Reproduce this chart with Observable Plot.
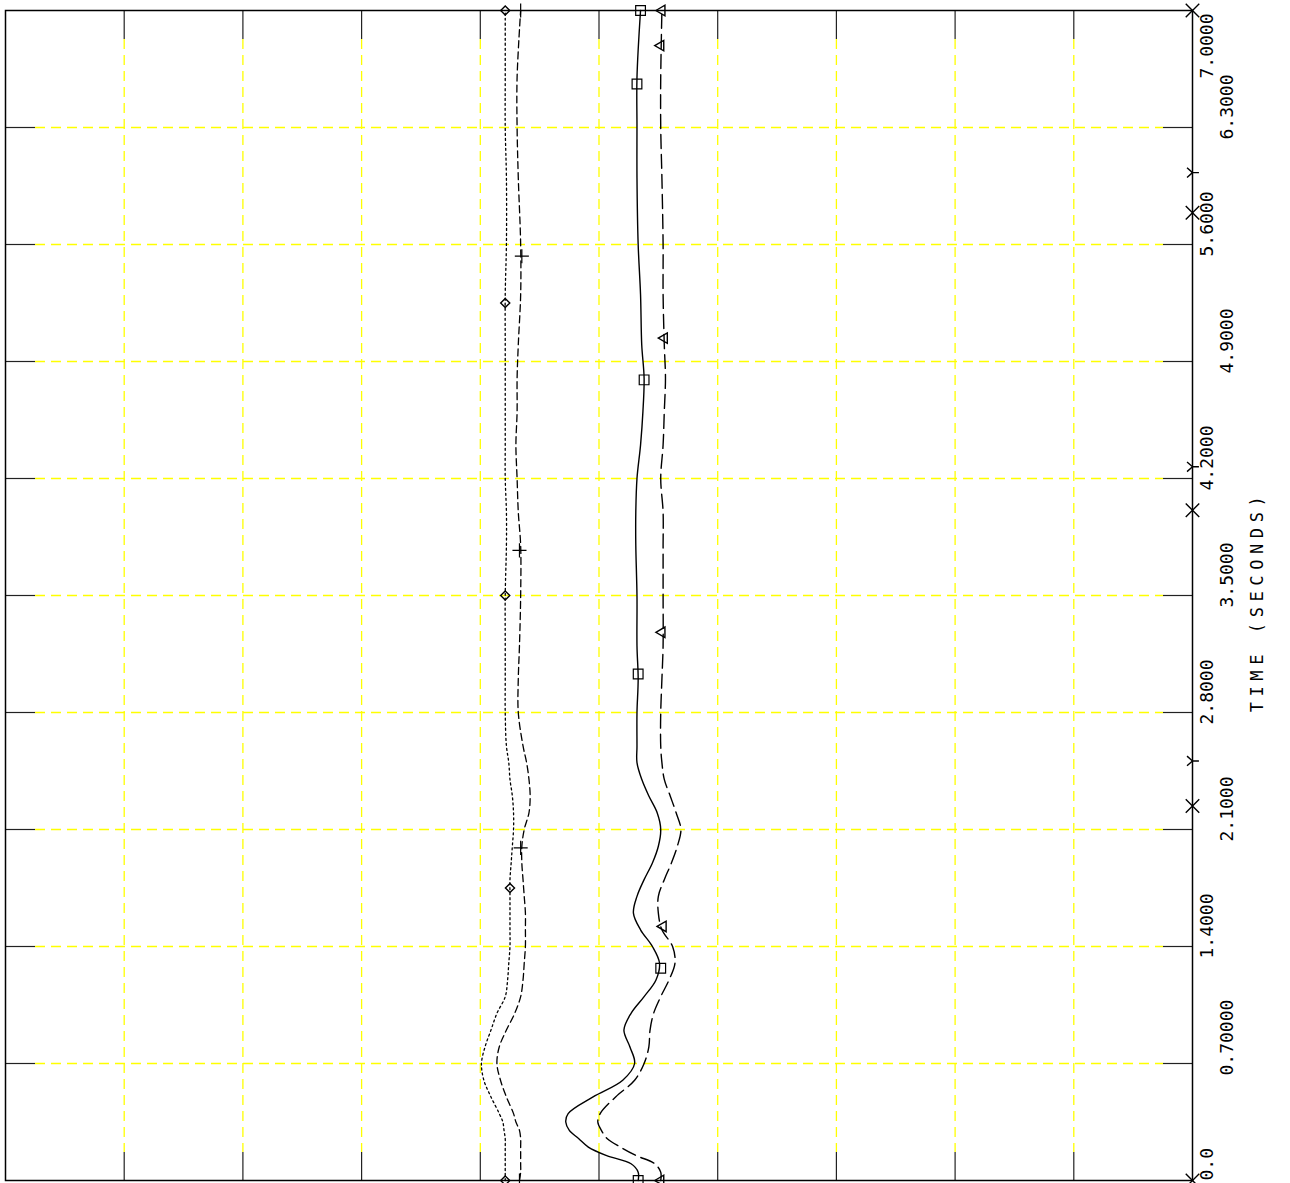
<!DOCTYPE html>
<html>
<head>
<meta charset="utf-8">
<script src="https://cdn.jsdelivr.net/npm/d3@7"></script>
<script src="https://cdn.jsdelivr.net/npm/@observablehq/plot@0.6"></script>
<style>
  html, body { margin: 0; padding: 0; background: #fff; }
  #chart svg { display: block; }
</style>
</head>
<body>
<div id="chart"></div>
<script>
// ---- data (time in seconds, response in plot units) ----
const time = [0,0.05,0.1,0.15,0.2,0.25,0.3,0.35,0.4,
  0.5,0.6,0.7,0.8,0.9,1.0,1.1,1.2,1.3,1.4,1.5,1.6,1.7,1.8,1.9,2.0,2.1,2.2,2.3,2.4,2.5,2.6,
  2.8,3.0,3.2,3.5,3.8,4.0,4.2,4.4,4.6,4.8,5.0,5.3,5.6,6.0,6.3,6.6,7.0];

const seriesDotted = [4.21,4.21,4.21,4.21,4.21,4.21,4.20,4.19,4.16,
  4.09,4.03,4.01,4.04,4.09,4.14,4.21,4.23,4.24,4.25,4.25,4.25,4.25,4.25,4.26,4.27,4.28,4.28,4.27,4.25,4.24,4.22,
  4.21,4.21,4.21,4.21,4.22,4.22,4.21,4.21,4.21,4.21,4.21,4.21,4.22,4.22,4.21,4.21,4.21];

const seriesDashed = [4.33,4.34,4.34,4.34,4.34,4.34,4.33,4.30,4.28,
  4.22,4.17,4.14,4.16,4.22,4.29,4.34,4.36,4.37,4.38,4.38,4.38,4.37,4.36,4.35,4.35,4.37,4.41,4.42,4.41,4.39,4.36,
  4.32,4.32,4.33,4.34,4.34,4.32,4.31,4.30,4.31,4.31,4.32,4.34,4.34,4.32,4.31,4.31,4.34];

const seriesSolid = [5.33,5.33,5.27,5.06,4.91,4.83,4.75,4.72,4.74,
  4.95,5.20,5.30,5.26,5.21,5.27,5.38,5.48,5.51,5.45,5.35,5.29,5.32,5.38,5.45,5.50,5.52,5.49,5.42,5.36,5.32,5.32,
  5.32,5.33,5.32,5.32,5.31,5.31,5.32,5.35,5.37,5.38,5.36,5.35,5.33,5.32,5.32,5.32,5.35];

const seriesLongDash = [5.52,5.52,5.47,5.31,5.18,5.07,5.02,4.99,5.01,
  5.14,5.30,5.38,5.42,5.43,5.46,5.52,5.59,5.64,5.62,5.53,5.50,5.50,5.55,5.61,5.66,5.69,5.65,5.60,5.55,5.53,5.52,
  5.52,5.53,5.54,5.54,5.54,5.54,5.52,5.54,5.55,5.56,5.55,5.54,5.54,5.53,5.52,5.52,5.53];

// marker positions (time, value)
const diamondTimes = [0,1.75,3.5,5.25,7.0];
const diamondVals  = [4.21,4.25,4.21,4.21,4.21];
const plusTimes = [0,1.99,3.77,5.53,7.0];
const plusVals  = [4.33,4.34,4.33,4.35,4.34];
const squareTimes = [0,1.27,3.03,4.79,6.56,7.0];
const squareVals  = [5.33,5.52,5.33,5.38,5.32,5.35];
const triangleTimes = [0,1.52,3.28,5.04,6.79,7.0];
const triangleVals  = [5.52,5.54,5.53,5.55,5.52,5.53];
// off-scale series, drawn clipped at the right edge
const timesMarkTimes = [0,2.24,4.01,5.79,7.0];
const wyeMarkTimes = [2.51,4.27,6.03];
const offScaleValue = 10;

const tickValues = [0,0.7,1.4,2.1,2.8,3.5,4.2,4.9,5.6,6.3,7.0];
const tickLabels = ["0.0","0.70000","1.4000","2.1000","2.8000","3.5000","4.2000","4.9000","5.6000","6.3000","7.0000"];
const gridX = [1,2,3,4,5,6,7,8,9];
const xDomain = [0,10];
const yDomain = [0,7];
const axisTitle = "TIME (SECONDS)";

// ---- build tables ----
const rows = time.map((t,i) => ({t, dotted: seriesDotted[i], dashed: seriesDashed[i], solid: seriesSolid[i], longDash: seriesLongDash[i]}));
const pts = (ts, vs) => ts.map((t,i) => ({t, v: vs[i]}));
const labelRows = tickValues.map((t,i) => ({t, label: tickLabels[i], i}));
const midTicks = tickValues.slice(1,-1);

const W = 1290, H = 1183;
const mL = 5, mR = 98, mT = 10, mB = 3;
const plotW = W - mL - mR, plotH = H - mT - mB;

const wye = {
  draw(ctx, size) {
    const r = Math.sqrt(size) * 0.66;
    ctx.moveTo(0, 0); ctx.lineTo(0, r);
    ctx.moveTo(0, 0); ctx.lineTo(-r * 0.75, -r * 0.85);
    ctx.moveTo(0, 0); ctx.lineTo(r * 0.75, -r * 0.85);
  }
};

const font = "'DejaVu Sans Mono', 'Liberation Mono', monospace";
const yellow = "#ffff00";

const chart = Plot.plot({
  width: W, height: H,
  marginLeft: mL, marginRight: mR, marginTop: mT, marginBottom: mB,
  x: {domain: xDomain, axis: null},
  y: {domain: yDomain, axis: null},
  style: {background: "white", overflow: "visible"},
  marks: [
    // yellow dashed grid
    Plot.ruleX(gridX, {x: d => d, stroke: yellow, strokeWidth: 1.3, strokeDasharray: "10,6", insetTop: 29, insetBottom: 28}),
    Plot.ruleY(midTicks, {y: d => d, stroke: yellow, strokeWidth: 1.3, strokeDasharray: "10,6", insetLeft: 30, insetRight: 29}),
    // black tick stubs
    Plot.ruleX(gridX, {x: d => d, stroke: "#222", strokeWidth: 1.2, insetTop: plotH - 28}),
    Plot.ruleX(gridX, {x: d => d, stroke: "#222", strokeWidth: 1.2, insetBottom: plotH - 29}),
    Plot.ruleY(midTicks, {y: d => d, stroke: "#222", strokeWidth: 1.2, insetRight: plotW - 30}),
    Plot.ruleY(midTicks, {y: d => d, stroke: "#222", strokeWidth: 1.2, insetLeft: plotW - 29}),
    Plot.frame({stroke: "black", strokeWidth: 1.5}),
    // series lines
    Plot.line(rows, {x: "dotted", y: "t", curve: "catmull-rom", stroke: "black", strokeWidth: 1.3, strokeDasharray: "2,3"}),
    Plot.line(rows, {x: "dashed", y: "t", curve: "catmull-rom", stroke: "black", strokeWidth: 1.3, strokeDasharray: "7,4"}),
    Plot.line(rows, {x: "solid", y: "t", curve: "catmull-rom", stroke: "black", strokeWidth: 1.4}),
    Plot.line(rows, {x: "longDash", y: "t", curve: "catmull-rom", stroke: "black", strokeWidth: 1.4, strokeDasharray: "14,6"}),
    // markers
    Plot.dot(pts(diamondTimes, diamondVals), {x: "v", y: "t", symbol: "diamond2", r: 4.1, stroke: "black", fill: "none", strokeWidth: 1.4, rotate: -90}),
    Plot.dot(pts(plusTimes, plusVals), {x: "v", y: "t", symbol: "plus", r: 4.6, stroke: "black", fill: "none", strokeWidth: 1.2, rotate: -90}),
    Plot.dot(pts(squareTimes, squareVals), {x: "v", y: "t", symbol: "square2", r: 6.2, stroke: "black", fill: "none", strokeWidth: 1.2, rotate: -90}),
    Plot.dot(pts(triangleTimes, triangleVals), {x: "v", y: "t", symbol: "triangle2", r: 5, stroke: "black", fill: "none", strokeWidth: 1.4, rotate: -90}),
    Plot.dot(timesMarkTimes.map(t => ({t, v: offScaleValue})), {x: "v", y: "t", symbol: "times", r: 6.2, stroke: "black", fill: "none", strokeWidth: 1.4}),
    Plot.dot(wyeMarkTimes.map(t => ({t, v: offScaleValue})), {x: "v", y: "t", symbol: wye, r: 5.5, stroke: "black", fill: "none", strokeWidth: 1.4, rotate: -90}),
    // rotated tick labels on the right
    Plot.text(labelRows.filter(d => d.i > 0 && d.i < tickValues.length - 1 && d.i % 2 === 0),
      {y: "t", text: "label", frameAnchor: "right", rotate: -90, textAnchor: "start", dx: 14.5, dy: 12, fontFamily: font, fontSize: 18, fill: "black"}),
    Plot.text(labelRows.filter(d => d.i % 2 === 1),
      {y: "t", text: "label", frameAnchor: "right", rotate: -90, textAnchor: "start", dx: 34.5, dy: 12, fontFamily: font, fontSize: 18, fill: "black"}),
    Plot.text(labelRows.filter(d => d.i === 0),
      {y: "t", text: "label", frameAnchor: "right", rotate: -90, textAnchor: "start", dx: 14.5, dy: 0, fontFamily: font, fontSize: 18, fill: "black"}),
    Plot.text(labelRows.filter(d => d.i === tickValues.length - 1),
      {y: "t", text: "label", frameAnchor: "right", rotate: -90, textAnchor: "end", dx: 14.5, dy: 3, fontFamily: font, fontSize: 18, fill: "black"}),
    // axis title
    Plot.text([axisTitle], {y: () => d3.mean(yDomain), text: d => d, frameAnchor: "right", rotate: -90, textAnchor: "middle", dx: 65.5, dy: 6, fontFamily: font, fontSize: 17, fill: "black", className: "axis-title"})
  ]
});

chart.querySelectorAll(".axis-title text").forEach(t => { t.style.letterSpacing = "5.6px"; });
document.getElementById("chart").appendChild(chart);
</script>
</body>
</html>
